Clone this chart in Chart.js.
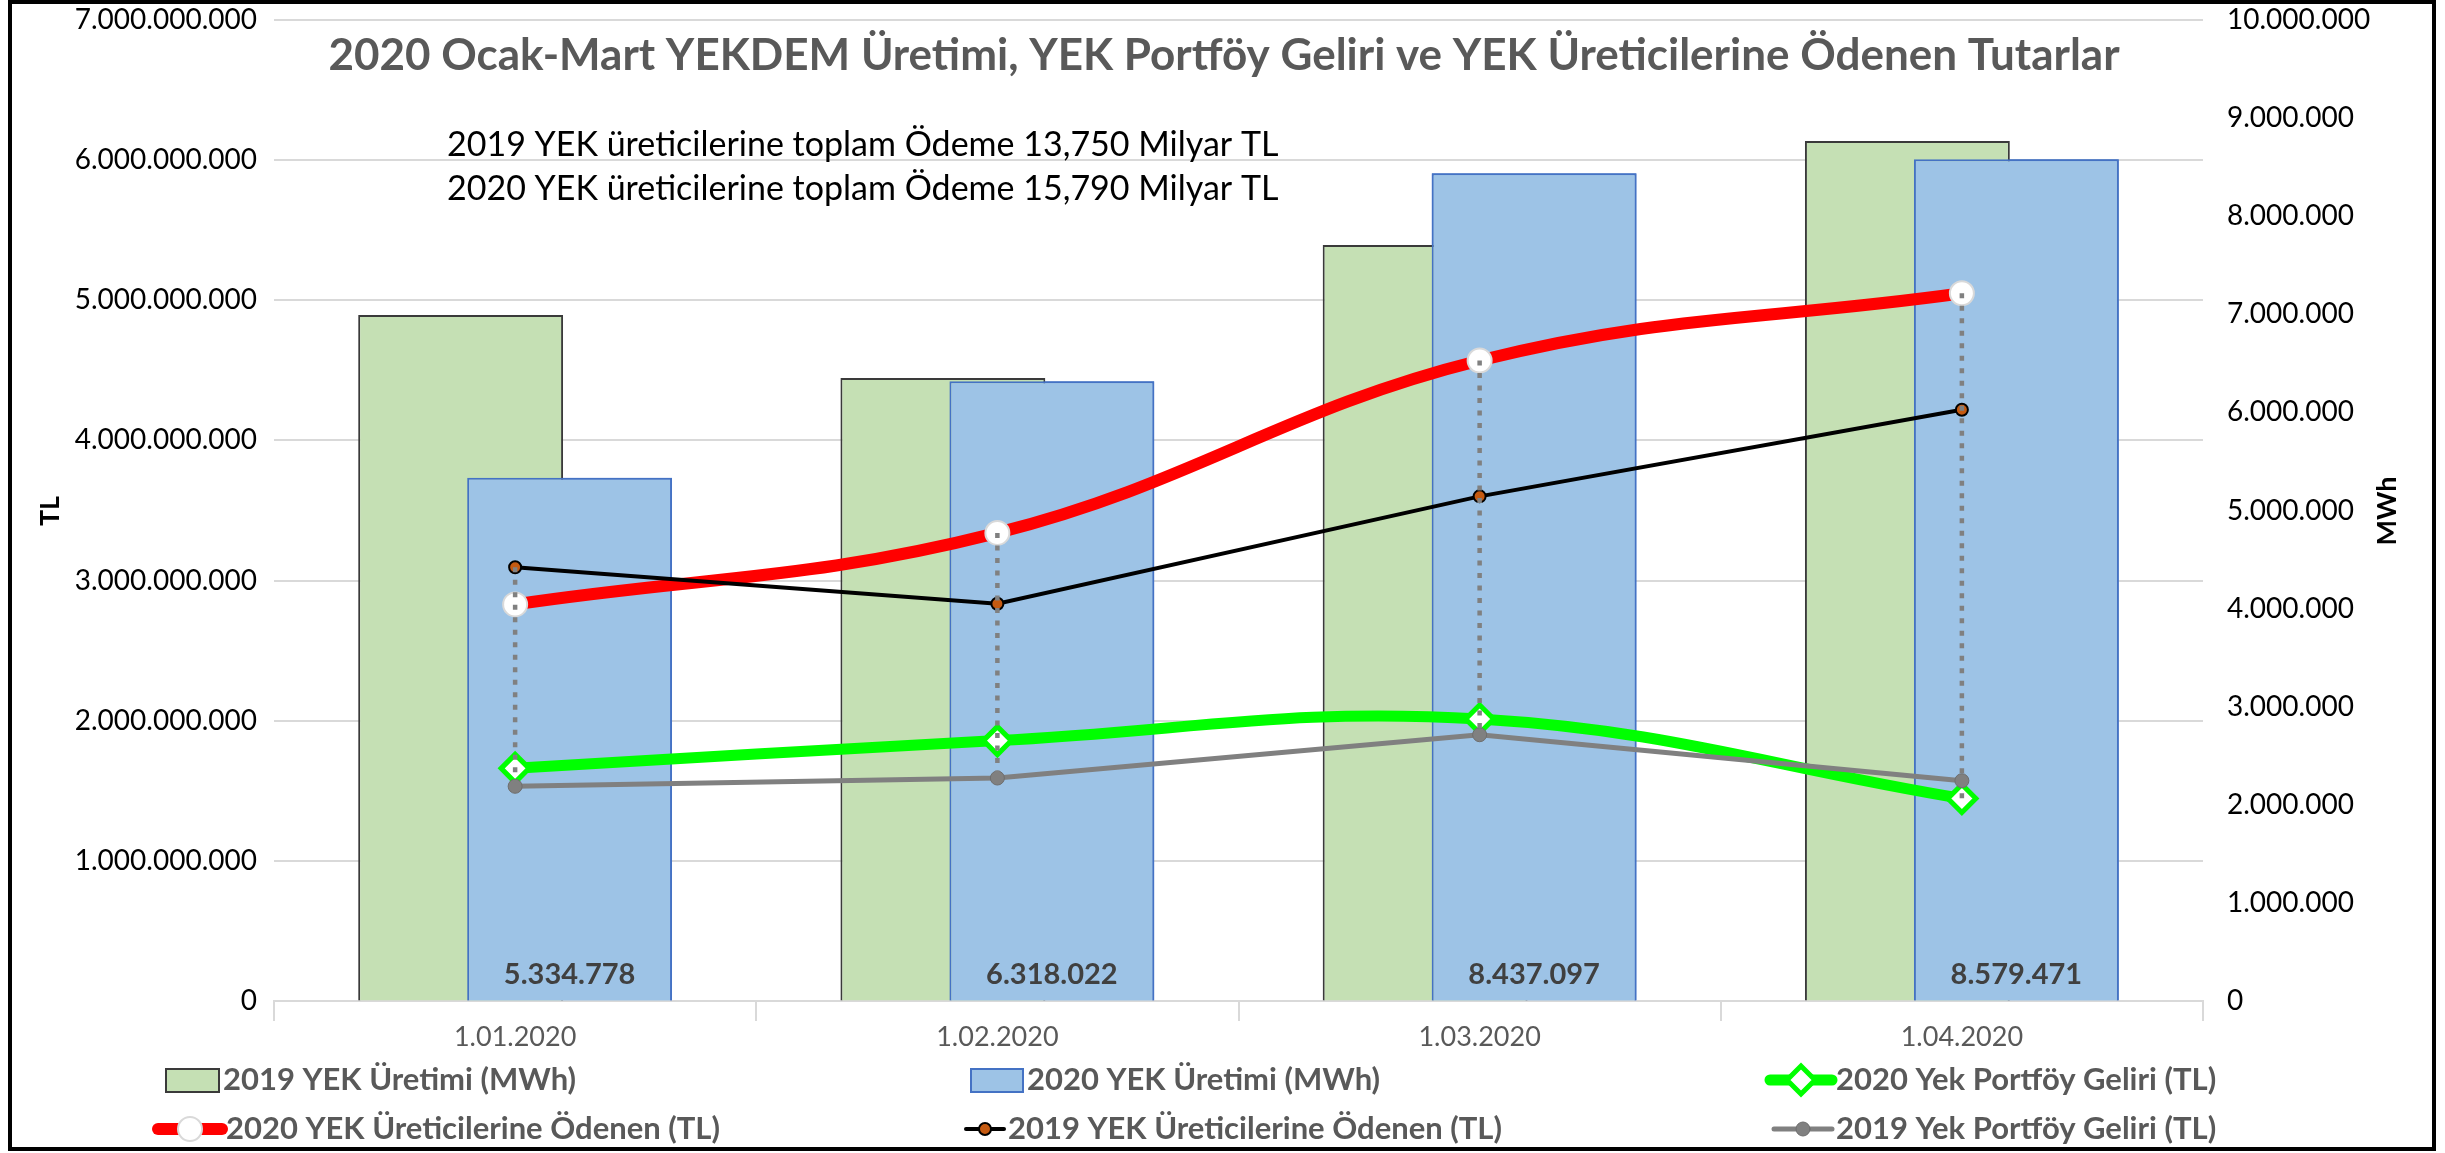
<!DOCTYPE html>
<html>
<head>
    <meta charset="utf-8">
    <title>2020 Ocak-Mart YEKDEM</title>
    <script src="https://cdn.jsdelivr.net/npm/chart.js@4.4.1/dist/chart.umd.min.js"></script>
    <style>
        html, body { margin: 0; padding: 0; background: #fff; }
        #wrap { width: 2445px; height: 1153px; }
    </style>
</head>
<body>
    <div id="wrap"><canvas id="myChart" width="2445" height="1153"></canvas></div>
    <script>
        // data
        const months = ['1.01.2020', '1.02.2020', '1.03.2020', '1.04.2020'];
        const uretim2019 = [6993000, 6350000, 7707000, 8767000];      // MWh
        const uretim2020 = [5334778, 6318022, 8437097, 8579471];      // MWh
        const portfoy2020 = [1660000000, 1858000000, 2012000000, 1445000000]; // TL
        const odenen2020 = [2830000000, 3340000000, 4570000000, 5050000000];  // TL
        const odenen2019 = [3095000000, 2835000000, 3601000000, 4219000000];  // TL
        const portfoy2019 = [1532000000, 1591000000, 1900000000, 1572000000]; // TL
        const notes = [
            '2019 YEK üreticilerine toplam Ödeme 13,750 Milyar TL',
            '2020 YEK üreticilerine toplam Ödeme 15,790 Milyar TL'
        ];
        const title = '2020 Ocak-Mart YEKDEM Üretimi, YEK Portföy Geliri ve YEK Üreticilerine Ödenen Tutarlar';

        const FONT = 'Lato';

        function fmt(v) {
            return String(Math.round(v)).replace(/\B(?=(\d{3})+(?!\d))/g, '.');
        }

        Chart.defaults.font.family = FONT;

        // fixed axis width, and no extra top padding from the tick labels
        function fixAxis(width) {
            return function (s) {
                s.width = width;
                s.paddingTop = 0;
                s.paddingBottom = 0;
            };
        }

        // frame, title, notes, axis titles
        const decoPlugin = {
            id: 'deco',
            afterDraw(chart) {
                const ctx = chart.ctx;
                ctx.save();
                ctx.strokeStyle = '#000';
                ctx.lineWidth = 4;
                ctx.strokeRect(10, 2, 2424, 1147);

                ctx.fillStyle = '#595959';
                ctx.font = 'bold 44px ' + FONT;
                ctx.textAlign = 'center';
                ctx.textBaseline = 'middle';
                ctx.fillText(title, 1224, 56);

                ctx.fillStyle = '#000';
                ctx.font = '34px ' + FONT;
                ctx.textAlign = 'left';
                ctx.fillText(notes[0], 447, 145);
                ctx.fillText(notes[1], 447, 189);

                ctx.font = 'bold 27px ' + FONT;
                ctx.textAlign = 'center';
                ctx.translate(50, 511);
                ctx.rotate(-Math.PI / 2);
                ctx.fillText('TL', 0, 0);
                ctx.setTransform(1, 0, 0, 1, 0, 0);
                ctx.translate(2387, 511);
                ctx.rotate(-Math.PI / 2);
                ctx.fillText('MWh', 0, 0);
                ctx.restore();
            }
        };

        // excel draws the 2020 bar over the 2019 one: repaint blue bars right after the green ones
        const overlapPlugin = {
            id: 'overlap',
            afterDatasetDraw(chart, args) {
                if (args.index !== 0) return;
                const ctx = chart.ctx;
                ctx.save();
                chart.getDatasetMeta(1).data.forEach(el => el.draw(ctx));
                ctx.restore();
            }
        };

        // dotted high-low lines + labels on the 2020 bars
        const marksPlugin = {
            id: 'marks',
            afterDatasetsDraw(chart) {
                const ctx = chart.ctx;
                const lineMetas = chart.getSortedVisibleDatasetMetas().filter(m => m.type === 'line');
                ctx.save();
                ctx.strokeStyle = '#808080';
                ctx.lineWidth = 4.5;
                ctx.setLineDash([5, 7.5]);
                months.forEach(function (m, i) {
                    const ys = lineMetas.map(meta => meta.data[i].y);
                    const x = lineMetas[0].data[i].x;
                    ctx.beginPath();
                    ctx.moveTo(x, Math.min(...ys));
                    ctx.lineTo(x, Math.max(...ys));
                    ctx.stroke();
                });
                ctx.setLineDash([]);

                const blue = chart.getDatasetMeta(1);
                ctx.fillStyle = '#404040';
                ctx.font = 'bold 29px ' + FONT;
                ctx.textAlign = 'center';
                ctx.textBaseline = 'middle';
                blue.data.forEach(function (bar, i) {
                    ctx.fillText(fmt(uretim2020[i]), bar.x, bar.base - 26);
                });
                ctx.restore();
            }
        };

        // excel style legend in 3 columns
        const legendSlots = [
            { ds: 0, x: 166, row: 0, w: 53 },
            { ds: 1, x: 971, row: 0, w: 52 },
            { ds: 2, x: 1770, row: 0, w: 62 },
            { ds: 3, x: 158, row: 1, w: 64 },
            { ds: 4, x: 966, row: 1, w: 38 },
            { ds: 5, x: 1774, row: 1, w: 58 }
        ];
        const legendPlugin = {
            id: 'xlLegend',
            afterDraw(chart) {
                const ctx = chart.ctx;
                ctx.save();
                ctx.font = 'bold 31px ' + FONT;
                ctx.textBaseline = 'middle';
                ctx.textAlign = 'left';
                legendSlots.forEach(function (slot) {
                    const ds = chart.data.datasets[slot.ds];
                    const y = slot.row === 0 ? 1080 : 1129;
                    if (ds.type === 'bar') {
                        ctx.fillStyle = ds.backgroundColor;
                        ctx.fillRect(slot.x, y - 11, slot.w, 23);
                        ctx.strokeStyle = ds.borderColor;
                        ctx.lineWidth = 2;
                        ctx.strokeRect(slot.x, y - 11, slot.w, 23);
                    } else {
                        ctx.strokeStyle = ds.borderColor;
                        ctx.lineWidth = ds.borderWidth;
                        ctx.lineCap = 'round';
                        ctx.beginPath();
                        ctx.moveTo(slot.x, y);
                        ctx.lineTo(slot.x + slot.w, y);
                        ctx.stroke();
                        ctx.fillStyle = ds.pointBackgroundColor;
                        ctx.strokeStyle = ds.pointBorderColor;
                        ctx.lineWidth = ds.pointBorderWidth;
                        Chart.helpers.drawPoint(ctx, {
                            pointStyle: ds.pointStyle, radius: ds.pointRadius,
                            rotation: 0, borderWidth: ds.pointBorderWidth
                        }, slot.x + slot.w / 2, y);
                    }
                    ctx.fillStyle = '#595959';
                    ctx.fillText(ds.label, slot.x + slot.w + 4, y);
                });
                ctx.restore();
            }
        };

        const config = {
            data: {
                labels: months,
                datasets: [
                    {
                        type: 'bar', label: '2019 YEK Üretimi (MWh)', data: uretim2019,
                        yAxisID: 'y2',
                        backgroundColor: '#C5E0B4', borderColor: '#3a3a3a', borderWidth: 2,
                        categoryPercentage: 0.452, barPercentage: 1.88, order: 4
                    },
                    {
                        type: 'bar', label: '2020 YEK Üretimi (MWh)', data: uretim2020,
                        yAxisID: 'y2',
                        backgroundColor: '#9DC3E6', borderColor: '#4472C4', borderWidth: 2,
                        categoryPercentage: 0.452, barPercentage: 1.88, order: 5
                    },
                    {
                        type: 'line', label: '2020 Yek Portföy Geliri (TL)', data: portfoy2020,
                        yAxisID: 'y', borderColor: '#00FF00', borderWidth: 11, tension: 0.4,
                        pointStyle: 'rectRot', pointRadius: 14, pointBackgroundColor: '#fff',
                        pointBorderColor: '#00FF00', pointBorderWidth: 5, order: 3
                    },
                    {
                        type: 'line', label: '2020 YEK Üreticilerine Ödenen (TL)', data: odenen2020,
                        yAxisID: 'y', borderColor: '#FF0000', borderWidth: 12, tension: 0.4,
                        pointStyle: 'circle', pointRadius: 12, pointBackgroundColor: '#fff',
                        pointBorderColor: '#d9d9d9', pointBorderWidth: 2, order: 2
                    },
                    {
                        type: 'line', label: '2019 YEK Üreticilerine Ödenen (TL)', data: odenen2019,
                        yAxisID: 'y', borderColor: '#000', borderWidth: 4, tension: 0,
                        pointStyle: 'circle', pointRadius: 6, pointBackgroundColor: '#C55A11',
                        pointBorderColor: '#000', pointBorderWidth: 2, order: 1
                    },
                    {
                        type: 'line', label: '2019 Yek Portföy Geliri (TL)', data: portfoy2019,
                        yAxisID: 'y', borderColor: '#808080', borderWidth: 5, tension: 0,
                        pointStyle: 'circle', pointRadius: 7, pointBackgroundColor: '#808080',
                        pointBorderColor: '#6e6e6e', pointBorderWidth: 1, order: 0
                    }
                ]
            },
            options: {
                responsive: false,
                devicePixelRatio: 1,
                animation: false,
                layout: { padding: { top: 20, left: 0, right: 0, bottom: 0 } },
                plugins: { legend: { display: false }, tooltip: { enabled: false } },
                scales: {
                    x: {
                        type: 'category', offset: true,
                        grid: { offset: true, drawOnChartArea: false, color: '#d9d9d9', lineWidth: 2, tickLength: 20 },
                        border: { color: '#d9d9d9', width: 2 },
                        ticks: { color: '#595959', font: { size: 27 }, padding: 0 },
                        afterFit: function (s) { s.height = 152; }
                    },
                    y: {
                        position: 'left', min: 0, max: 7000000000,
                        ticks: { stepSize: 1000000000, color: '#000', font: { size: 28 }, padding: 17, callback: v => fmt(v) },
                        grid: { color: '#d9d9d9', lineWidth: 2, drawTicks: false },
                        border: { display: false },
                        afterFit: fixAxis(274)
                    },
                    y2: {
                        position: 'right', min: 0, max: 10000000,
                        ticks: { stepSize: 1000000, color: '#000', font: { size: 28 }, padding: 24, callback: v => fmt(v) },
                        grid: { drawOnChartArea: false, drawTicks: false },
                        border: { display: false },
                        afterFit: fixAxis(242)
                    }
                }
            },
            plugins: [overlapPlugin, marksPlugin, decoPlugin, legendPlugin]
        };

        const myChart = new Chart(document.getElementById('myChart'), config);
    </script>
</body>
</html>
